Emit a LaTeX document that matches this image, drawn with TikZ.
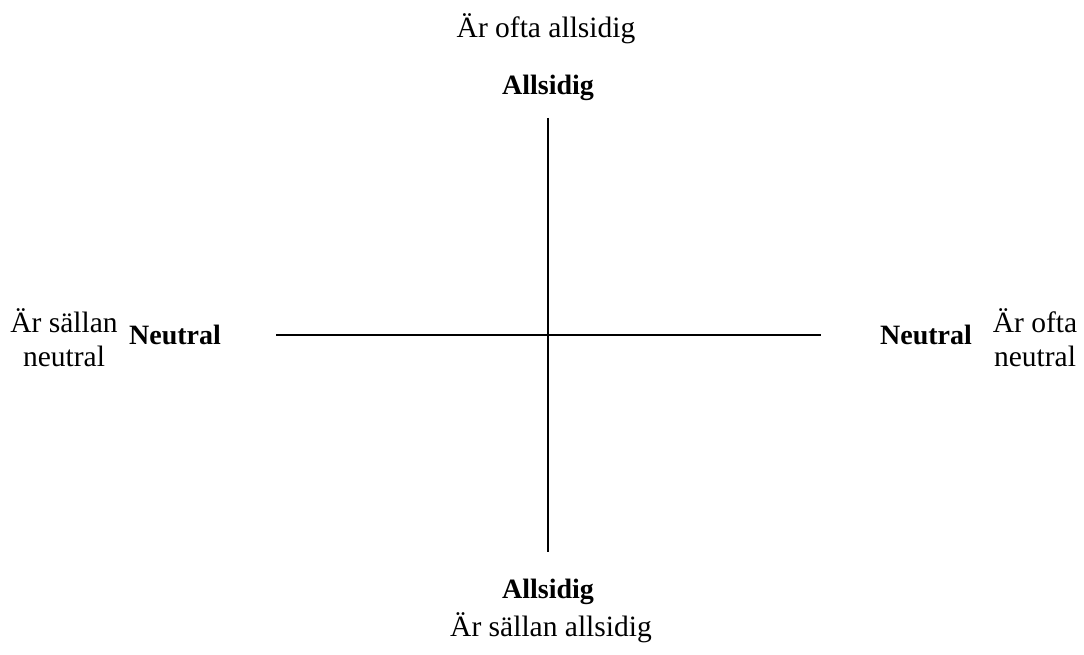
\documentclass[tikz,border=0pt]{standalone}
\usepackage{fontspec}
\setmainfont{Liberation Serif}
\begin{document}
\begin{tikzpicture}[x=1pt,y=-1pt,
  lbl/.style={inner sep=0pt,font=\fontsize{29.5}{34}\selectfont},
  blbl/.style={inner sep=0pt,font=\fontsize{28}{33}\selectfont\bfseries},
  axis/.style={line width=1.6pt}]
\useasboundingbox (0,0) rectangle (1084,655);
\coordinate (top) at (548,118);
\coordinate (bot) at (548,552);
\coordinate (lft) at (276,335);
\coordinate (rgt) at (821,335);
\draw[axis] (top) -- (bot);
\draw[axis] (lft) -- (rgt);
\node[lbl,anchor=base] (toptxt) at (546,38) {Är ofta allsidig};
\node[blbl,anchor=base] (topb) at (548,95) {Allsidig};
\node[blbl,anchor=base] (botb) at (548,598) {Allsidig};
\node[lbl,anchor=base] (bottxt) at (551,636) {Är sällan allsidig};
\node[blbl,anchor=base] (lb) at (175,344) {Neutral};
\node[blbl,anchor=base] (rb) at (926,344) {Neutral};
\node[lbl,align=center,anchor=center] (ltxt) at (64,338) {Är sällan\\neutral};
\node[lbl,align=center,anchor=center] (rtxt) at (1035,338) {Är ofta\\neutral};
\end{tikzpicture}
\end{document}
